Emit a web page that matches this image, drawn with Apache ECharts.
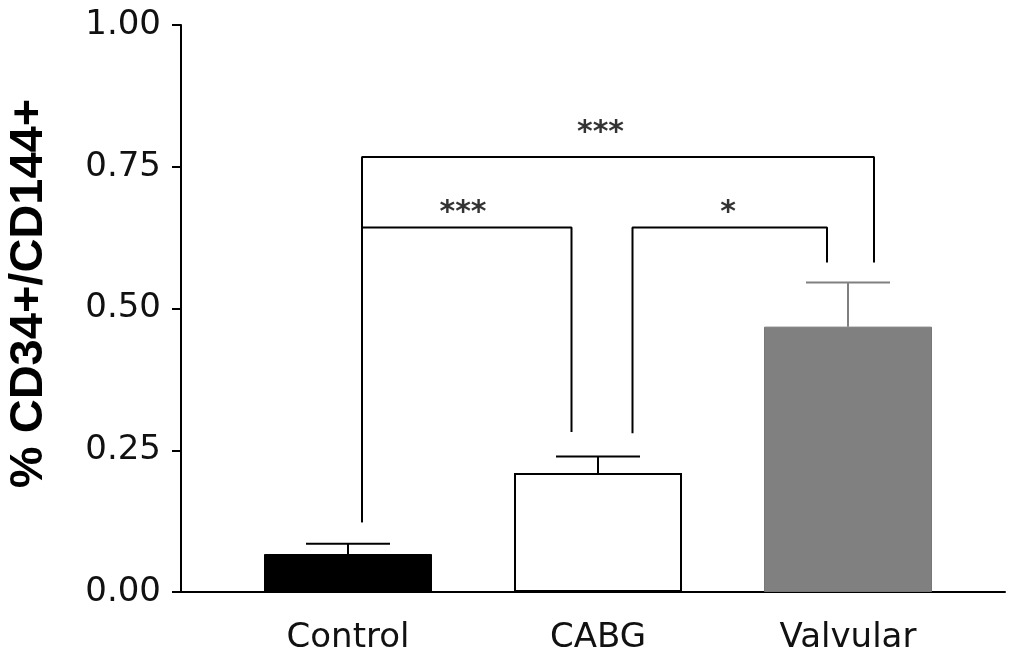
<!DOCTYPE html>
<html>
<head>
<meta charset="utf-8">
<script src="https://cdn.jsdelivr.net/npm/echarts@6/dist/echarts.min.js"></script>
<style>
  html, body { margin: 0; padding: 0; background: #fff; }
  #chart { width: 1009px; height: 654px; }
</style>
</head>
<body>
<div id="chart"></div>
<script>
// group means and error (SEM)
const categories = ['Control', 'CABG', 'Valvular'];
const means = [0.067, 0.21, 0.468];
const errors = [0.018, 0.029, 0.078];
const barColors = ['#000000', '#ffffff', '#808080'];
const errColors = ['#000000', '#000000', '#808080'];

// significance brackets: leg x (in category units), top y, leg foot y, stars
const bracketX = [[0.056, 0.894], [1.138, 1.916], [0.056, 2.104]];
const bracketTop = [0.643, 0.643, 0.767];
const bracketFoot = [[0.123, 0.282], [0.28, 0.581], [0.123, 0.581]];
const bracketStars = ['***', '*', '***'];
const starX = [0.46, 1.52, 1.01];
const starY = [0.668, 0.668, 0.81];

const chart = echarts.init(document.getElementById('chart'));

const bracketSeries = bracketX.map((xs, i) => ({
  type: 'line',
  data: [
    [xs[0], bracketFoot[i][0]],
    [xs[0], bracketTop[i]],
    [xs[1], bracketTop[i]],
    [xs[1], bracketFoot[i][1]],
  ],
  symbol: 'none',
  lineStyle: { color: '#000', width: 2 },
  silent: true,
  z: 5,
}));

chart.setOption({
  animation: false,
  grid: { left: 181, right: 4, top: 25, bottom: 62, outerBoundsMode: 'none' },
  xAxis: {
    type: 'value',
    min: -0.668,
    max: 2.628,
    splitLine: { show: false },
    axisTick: { show: false },
    axisLine: { onZero: false, lineStyle: { color: '#000', width: 2 } },
    axisLabel: {
      customValues: [0, 1, 2],
      formatter: (v) => categories[Math.round(v)] ?? '',
      fontFamily: 'DejaVu Sans',
      fontSize: 34,
      color: '#111',
      margin: 29,
    },
  },
  yAxis: {
    type: 'value',
    min: 0,
    max: 1,
    interval: 0.25,
    splitLine: { show: false },
    axisLine: { show: true, onZero: false, lineStyle: { color: '#000', width: 2 } },
    axisTick: { show: true, length: 9, lineStyle: { color: '#000', width: 2 } },
    axisLabel: {
      formatter: (v) => v.toFixed(2),
      fontFamily: 'DejaVu Sans',
      fontSize: 34,
      color: '#111',
      margin: 20,
    },
    name: '% CD34+/CD144+',
    nameLocation: 'middle',
    nameRotate: 90,
    nameGap: 128,
    nameTextStyle: {
      fontFamily: 'Liberation Sans',
      fontWeight: 'bold',
      fontSize: 47,
      color: '#000',
      padding: [0, 0, 0, 30],
    },
  },
  series: [
    {
      type: 'bar',
      barWidth: 168,
      data: means.map((m, i) => ({
        value: [i, m],
        itemStyle: {
          color: barColors[i],
          borderColor: i === 2 ? '#777' : '#000',
          borderWidth: i === 1 ? 2 : 1,
        },
      })),
      z: 2,
    },
    {
      type: 'custom',
      data: means.map((m, i) => [i, m, errors[i]]),
      renderItem: (params, api) => {
        const i = params.dataIndex;
        const base = api.coord([api.value(0), api.value(1)]);
        const top = api.coord([api.value(0), api.value(1) + api.value(2)]);
        const half = 42;
        const st = { stroke: errColors[i], lineWidth: 2 };
        return {
          type: 'group',
          children: [
            { type: 'line', shape: { x1: base[0], y1: base[1], x2: top[0], y2: top[1] }, style: st },
            { type: 'line', shape: { x1: top[0] - half, y1: top[1], x2: top[0] + half, y2: top[1] }, style: st },
          ],
        };
      },
      z: 3,
    },
    ...bracketSeries,
    {
      type: 'scatter',
      symbolSize: 0,
      data: starX.map((x, i) => [x, starY[i]]),
      label: {
        show: true,
        position: 'inside',
        formatter: (p) => bracketStars[p.dataIndex],
        fontFamily: 'DejaVu Sans',
        fontWeight: 'bold',
        fontSize: 30,
        color: '#000',
      },
      silent: true,
      z: 6,
    },
  ],
});
</script>
</body>
</html>
